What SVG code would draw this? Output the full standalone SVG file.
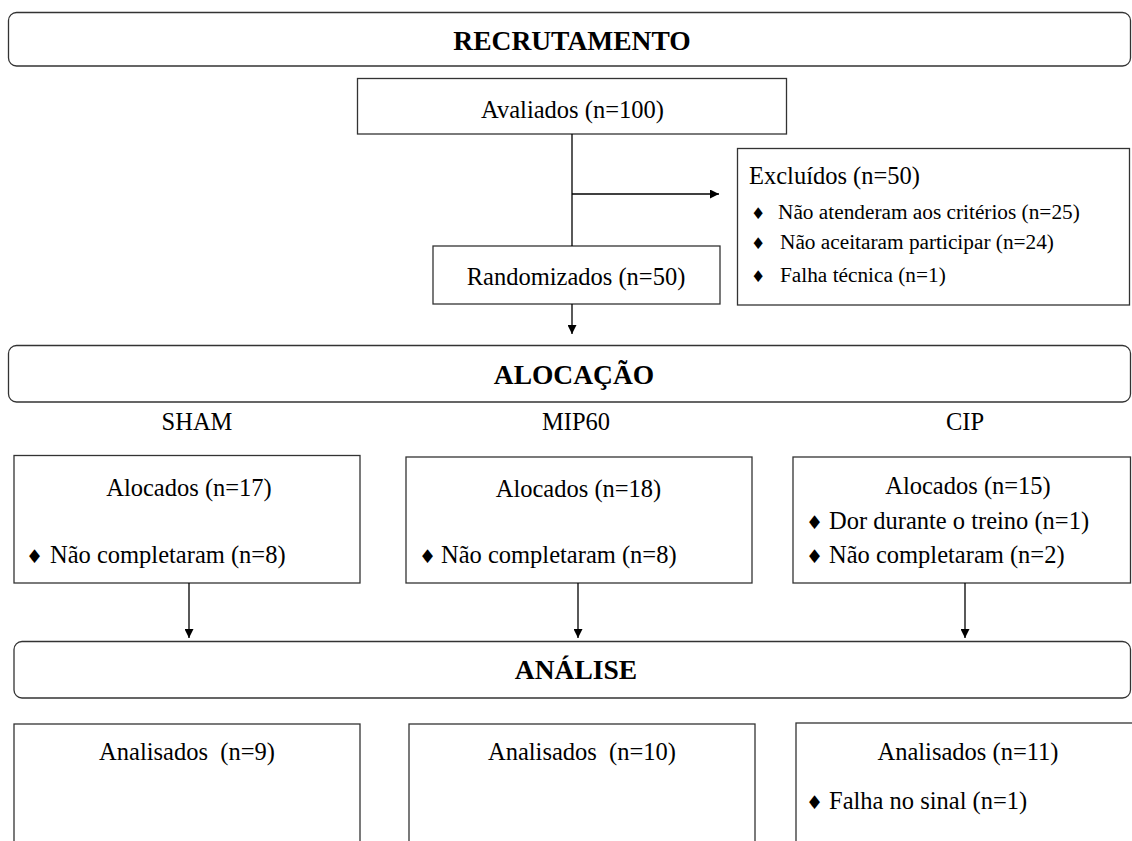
<svg xmlns="http://www.w3.org/2000/svg" width="1132" height="841" viewBox="0 0 1132 841">
<defs>
<marker id="arr" viewBox="0 0 10 10" refX="10" refY="5" markerWidth="10" markerHeight="9" markerUnits="userSpaceOnUse" orient="auto">
<path d="M0,0 L10,5 L0,10 z" fill="#000"/>
</marker>
</defs>
<style>
.box{fill:#fff;stroke:#333;stroke-width:1.3}
.ban{fill:#fff;stroke:#333;stroke-width:1.3}
.t{font-family:"Liberation Serif","Times New Roman",serif;font-size:24.5px;fill:#000;white-space:pre}
.s{font-family:"Liberation Serif","Times New Roman",serif;font-size:21.3px;fill:#000}
.h{font-family:"Liberation Serif","Times New Roman",serif;font-size:27.5px;font-weight:bold;fill:#000}
.b{font-family:"DejaVu Sans",sans-serif;font-size:19px;fill:#000}
.bs{font-family:"DejaVu Sans",sans-serif;font-size:16px;fill:#000}
.c{text-anchor:middle}
.ln{fill:none;stroke:#000;stroke-width:1.3}
</style>
<g id="recrutamento"><rect class="ban" x="8.5" y="12.5" width="1122" height="53.5" rx="8"/><text class="h c" x="572" y="50">RECRUTAMENTO</text></g>
<g id="avaliados"><rect class="box" x="357.5" y="78.5" width="429" height="55.5"/><text class="t c" x="572.5" y="118">Avaliados (n=100)</text></g>
<g id="excluidos"><rect class="box" x="737.5" y="148.5" width="392" height="156.5"/>
<text class="t" x="749" y="184">Excluídos (n=50)</text>
<text class="bs" x="751" y="219">♦</text><text class="s" x="778" y="219">Não atenderam aos critérios (n=25)</text>
<text class="bs" x="751" y="249">♦</text><text class="s" x="780" y="249">Não aceitaram participar (n=24)</text>
<text class="bs" x="751" y="282">♦</text><text class="s" x="780" y="282">Falha técnica (n=1)</text></g>
<g id="randomizados"><rect class="box" x="433" y="246" width="287" height="58"/><text class="t c" x="576" y="285">Randomizados (n=50)</text></g>
<g id="alocacao"><rect class="ban" x="8.5" y="345.5" width="1122" height="56.5" rx="8"/><text class="h c" x="574" y="384">ALOCAÇÃO</text></g>
<g id="labels"><text class="t c" x="197" y="430">SHAM</text><text class="t c" x="576" y="430">MIP60</text><text class="t c" x="965" y="430">CIP</text></g>
<g id="sham"><rect class="box" x="14" y="455.5" width="346" height="127.5"/>
<text class="t c" x="189" y="496">Alocados (n=17)</text>
<text class="b" x="26" y="563">♦</text><text class="t" x="50" y="563">Não completaram (n=8)</text></g>
<g id="mip60"><rect class="box" x="406" y="457" width="346" height="126"/>
<text class="t c" x="578.5" y="497">Alocados (n=18)</text>
<text class="b" x="419" y="563">♦</text><text class="t" x="441" y="563">Não completaram (n=8)</text></g>
<g id="cip"><rect class="box" x="793" y="457" width="337.5" height="126"/>
<text class="t c" x="968" y="494">Alocados (n=15)</text>
<text class="b" x="806" y="529">♦</text><text class="t" x="829" y="529">Dor durante o treino (n=1)</text>
<text class="b" x="806" y="563">♦</text><text class="t" x="829" y="563">Não completaram (n=2)</text></g>
<g id="analise"><rect class="ban" x="14" y="641.5" width="1116.5" height="56.5" rx="8"/><text class="h c" x="576" y="679">ANÁLISE</text></g>
<g id="an-sham"><rect class="box" x="14" y="724" width="346" height="130"/><text class="t c" x="187" y="760">Analisados  (n=9)</text></g>
<g id="an-mip60"><rect class="box" x="409" y="724" width="346" height="130"/><text class="t c" x="582" y="760">Analisados  (n=10)</text></g>
<g id="an-cip"><rect class="box" x="796" y="723" width="340" height="130"/>
<text class="t c" x="968" y="760">Analisados (n=11)</text>
<text class="b" x="806" y="809">♦</text><text class="t" x="829" y="809">Falha no sinal (n=1)</text></g>
<g id="connectors">
<line class="ln" x1="572" y1="134" x2="572" y2="246"/>
<line class="ln" x1="572" y1="194" x2="719" y2="194" marker-end="url(#arr)"/>
<line class="ln" x1="572" y1="304" x2="572" y2="334" marker-end="url(#arr)"/>
<line class="ln" x1="189" y1="583" x2="189" y2="638" marker-end="url(#arr)"/>
<line class="ln" x1="578" y1="583" x2="578" y2="638" marker-end="url(#arr)"/>
<line class="ln" x1="965" y1="583" x2="965" y2="638" marker-end="url(#arr)"/>
</g>
</svg>
